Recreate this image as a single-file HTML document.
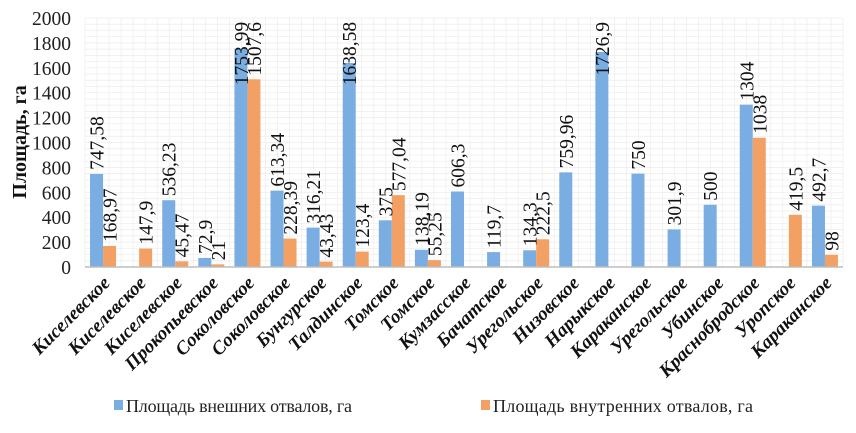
<!DOCTYPE html>
<html><head><meta charset="utf-8"><style>
body{margin:0;background:#fff;}
svg, svg text{font-family:"Liberation Serif","Times New Roman",serif !important;}
</style></head><body>
<svg id="c" width="856" height="428" xmlns="http://www.w3.org/2000/svg" font-family="Liberation Serif, serif"></svg>
<script>
const categories=["Киселевское","Киселевское","Киселевское","Прокопьевское","Соколовское","Соколовское","Бунгурское","Талдинское","Томское","Томское","Кумзасское","Бачатское","Урегольское","Низовское","Нарыкское","Караканское","Урегольское","Убинское","Краснобродское","Уропское","Караканское"];
const outerValues=[747.58,0,536.23,72.9,1753.99,613.34,316.21,1638.58,375,138.19,606.3,119.7,134.3,759.96,1726.9,750,301.9,500,1304,0,492.7];
const innerValues=[168.97,147.9,45.47,21,1507.6,228.39,43.43,123.4,577.04,55.25,0,0,222.5,0,0,0,0,0,1038,419.5,98];
const outerLabels=["747,58","","536,23","72,9","1753,99","613,34","316,21","1638,58","375","138,19","606,3","119,7","134,3","759,96","1726,9","750","301,9","500","1304","",'492,7'];
const innerLabels=["168,97","147,9","45,47","21","1507,6","228,39","43,43","123,4","577,04","55,25","","","222,5","","","","","","1038","419,5","98"];
const yTicks=[0,200,400,600,800,1000,1200,1400,1600,1800,2000];
const svg=document.getElementById('c');
const NS='http://www.w3.org/2000/svg';
const L=85,R=843,T=18,B=267,YMAX=2000;
const y=v=>B-(v/YMAX)*(B-T);
const cw=(R-L)/categories.length;
const x=i=>L+i*cw;
const FF='Liberation Serif, serif';
function mk(t,a,txt){const e=document.createElementNS(NS,t);for(const k in a)e.setAttribute(k,a[k]);if(t==='text')e.setAttribute('font-family',FF);if(txt!==undefined)e.textContent=txt;svg.appendChild(e);return e;}
for(let v=0;v<=2000;v+=50){const g=mk('line',{x1:L,x2:R,y1:y(v),y2:y(v),stroke:'#ececec','stroke-width':0.7});

}
for(let i=0;i<=categories.length*3;i++){const g=mk('line',{x1:L+i*cw/3,x2:L+i*cw/3,y1:T,y2:B,stroke:'#ececec','stroke-width':0.7});

}
yTicks.forEach(v=>{const t=mk('text',{x:71,y:y(v)+7,'text-anchor':'end','font-size':19.5,fill:'#222'},v);

});
const yt=mk('text',{transform:'translate(26,142) rotate(-90)','text-anchor':'middle','font-size':20,'font-weight':'bold',fill:'#111'},'Площадь, га');


const bw=13;
function label(cx,val,txt){if(!txt)return;const len=txt.length*9.6;let base=y(val)-4;if(base-len<T)base=T+len;const t=mk('text',{transform:`translate(${cx+7},${base}) rotate(-90)`,'font-size':19.5,fill:'#111'},txt);

}
categories.forEach((c,i)=>{
 const gx=x(i)+cw/2;
 if(outerValues[i]>0){const r=mk('rect',{x:gx-bw,y:y(outerValues[i]),width:bw,height:B-y(outerValues[i]),fill:'#7aade2'});
 
 }
 if(innerValues[i]>0){const r=mk('rect',{x:gx,y:y(innerValues[i]),width:bw,height:B-y(innerValues[i]),fill:'#f3a065'});
 
 }
 label(gx-bw/2,outerValues[i],outerLabels[i]);
 label(gx+bw/2,innerValues[i],innerLabels[i]);
 const t=mk('text',{transform:`translate(${gx+8},${284}) rotate(-45)`,'text-anchor':'end','font-size':19,'font-weight':'bold','font-style':'italic',fill:'#111'},c);
 
 
});
const ax=mk('line',{x1:L,x2:R,y1:B,y2:B,stroke:'#bdbdbd','stroke-width':1.5});


const l1=mk('rect',{x:114,y:400,width:9,height:10,fill:'#7aade2'});


const t1=mk('text',{x:126,y:412,'font-size':18,fill:'#222',textLength:226},'Площадь внешних отвалов, га');


const l2=mk('rect',{x:481,y:400,width:9,height:10,fill:'#f3a065'});


const t2=mk('text',{x:493,y:412,'font-size':18,fill:'#222',textLength:260},'Площадь внутренних отвалов, га');


</script>
</body></html>
